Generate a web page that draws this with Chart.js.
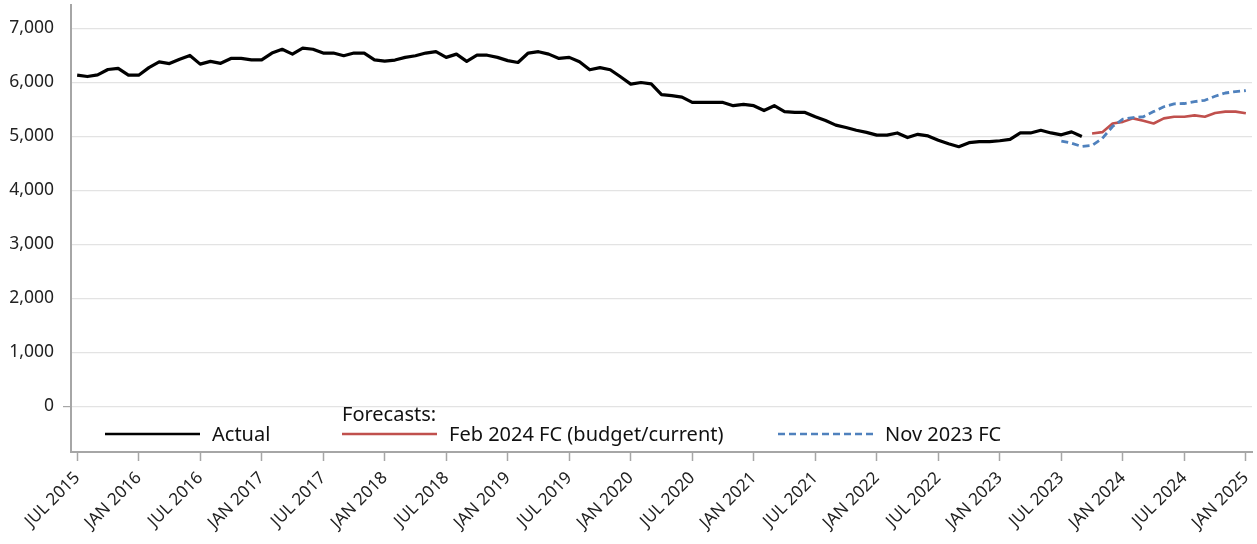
<!DOCTYPE html>
<html>
<head>
<meta charset="utf-8">
<title>Actual vs forecasts</title>
<script src="https://cdn.jsdelivr.net/npm/chart.js@4.4.1/dist/chart.umd.min.js"></script>
<style>
  html, body { margin: 0; padding: 0; background: #fff; }
  #wrap { width: 1257px; height: 544px; }
</style>
</head>
<body>
<div id="wrap"><canvas id="chart" width="1257" height="544"></canvas></div>
<script>
// month index 0 = JUL 2015
const tickMonths = [0, 6, 12, 18, 24, 30, 36, 42, 48, 54, 60, 66, 72, 78, 84, 90, 96, 102, 108, 114];
const tickLabels = ['JUL 2015', 'JAN 2016', 'JUL 2016', 'JAN 2017', 'JUL 2017', 'JAN 2018', 'JUL 2018',
  'JAN 2019', 'JUL 2019', 'JAN 2020', 'JUL 2020', 'JAN 2021', 'JUL 2021', 'JAN 2022', 'JUL 2022',
  'JAN 2023', 'JUL 2023', 'JAN 2024', 'JUL 2024', 'JAN 2025'];
const yTicks = [0, 1000, 2000, 3000, 4000, 5000, 6000, 7000];

// Actual: JUL 2015 .. SEP 2023
const actualStart = 0;
const actual = [
  6130, 6105, 6135, 6235, 6255, 6130,
  6130, 6270, 6375, 6345, 6425, 6495,
  6335, 6385, 6350, 6440, 6440, 6415,
  6415, 6540, 6610, 6520, 6630, 6610,
  6540, 6540, 6490, 6540, 6540, 6415,
  6390, 6410, 6460, 6490, 6540, 6565,
  6460, 6520, 6385, 6500, 6500, 6460,
  6400, 6365, 6540, 6565, 6520, 6440,
  6460, 6380, 6230, 6270, 6230, 6100,
  5965, 5995, 5970, 5770, 5750, 5725,
  5625, 5625, 5625, 5625, 5565, 5590,
  5565, 5475, 5565, 5455, 5440, 5440,
  5360, 5290, 5205, 5160, 5110, 5070,
  5020, 5020, 5060, 4975, 5035, 5005,
  4925, 4860, 4805, 4880, 4900, 4900,
  4915, 4940, 5060, 5060, 5110, 5060,
  5025, 5080, 4995
];

// Feb 2024 FC: OCT 2023 .. JAN 2025
const febStart = 99;
const febFC = [5050, 5075, 5235, 5265, 5330, 5285, 5235, 5330, 5360, 5360, 5385, 5360, 5430, 5455, 5455, 5425];

// Nov 2023 FC: JUL 2023 .. JAN 2025
const novStart = 96;
const novFC = [4910, 4870, 4810, 4830, 4960, 5180, 5315, 5345, 5360, 5455, 5545, 5600, 5605, 5640, 5665, 5740, 5800, 5825, 5845];

const toPoints = (start, values) => values.map((v, i) => ({ x: start + i, y: v }));

const FONT = '"Noto Sans", "Open Sans", sans-serif';
const AXIS = '#a6a6a6';

// legend drawn inside the plot, under the zero line
const inlineLegend = {
  id: 'inlineLegend',
  afterDraw(chart) {
    const ctx = chart.ctx;
    const area = chart.chartArea;
    const y = area.bottom - 18;
    const items = [{ ds: 0, x: 105 }, { ds: 1, x: 342 }, { ds: 2, x: 778 }];
    ctx.save();
    ctx.font = '20px ' + FONT;
    ctx.textBaseline = 'middle';
    ctx.fillStyle = '#111';
    items.forEach(it => {
      const d = chart.data.datasets[it.ds];
      ctx.strokeStyle = d.borderColor;
      ctx.lineWidth = it.ds === 0 ? 2.6 : 2.4;
      ctx.setLineDash(d.borderDash || []);
      ctx.beginPath();
      ctx.moveTo(it.x, y);
      ctx.lineTo(it.x + 95, y);
      ctx.stroke();
      ctx.setLineDash([]);
      ctx.fillText(d.label, it.x + 107, y + 1);
    });
    ctx.fillText('Forecasts:', 342, y - 19);
    ctx.restore();
  }
};

new Chart(document.getElementById('chart').getContext('2d'), {
  type: 'line',
  data: {
    datasets: [
      { label: 'Actual', data: toPoints(actualStart, actual), borderColor: '#000000', borderWidth: 3.2, order: 3 },
      { label: 'Feb 2024 FC (budget/current)', data: toPoints(febStart, febFC), borderColor: '#c0504d', borderWidth: 2.6, order: 2 },
      { label: 'Nov 2023 FC', data: toPoints(novStart, novFC), borderColor: '#4f81bd', borderWidth: 2.8, borderDash: [7, 4], order: 1 }
    ]
  },
  options: {
    responsive: false,
    animation: false,
    devicePixelRatio: 1,
    layout: { padding: { top: 5, right: 5, left: 0, bottom: 0 } },
    elements: {
      point: { radius: 0, hoverRadius: 0 },
      line: { tension: 0, borderJoinStyle: 'round', borderCapStyle: 'butt' }
    },
    plugins: { legend: { display: false }, tooltip: { enabled: false } },
    scales: {
      x: {
        type: 'linear',
        min: -0.6,
        max: 114.6,
        afterBuildTicks: s => { s.ticks = tickMonths.map(v => ({ value: v })); },
        afterFit: s => { s.height = 92; s.paddingLeft = 0; s.paddingRight = 0; },
        ticks: {
          autoSkip: false,
          minRotation: 45,
          maxRotation: 45,
          padding: 7,
          color: '#222',
          font: { family: FONT, size: 17 },
          callback: (v, i) => tickLabels[i]
        },
        grid: { drawOnChartArea: false, drawTicks: true, tickLength: 9, tickColor: AXIS, tickWidth: 1.5 },
        border: { color: AXIS, width: 2 }
      },
      y: {
        min: -850,
        max: 7430,
        afterBuildTicks: s => { s.ticks = yTicks.map(v => ({ value: v })); },
        afterFit: s => { s.width = 71; s.paddingTop = 0; s.paddingBottom = 0; },
        ticks: {
          padding: 9,
          color: '#222',
          font: { family: FONT, size: 17.5 },
          callback: v => v.toLocaleString('en-US')
        },
        grid: {
          color: '#e3e3e3',
          lineWidth: 1.2,
          tickLength: 8,
          tickColor: c => (c.tick && c.tick.value === 0 ? AXIS : 'rgba(0,0,0,0)')
        },
        border: { color: AXIS, width: 2 }
      }
    }
  },
  plugins: [inlineLegend]
});
</script>
</body>
</html>
